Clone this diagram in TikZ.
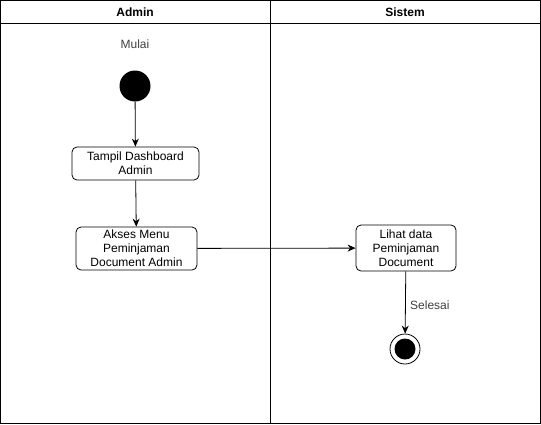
\documentclass[tikz,border=0pt]{standalone}
\usepackage{fontspec}
\setmainfont{Liberation Sans}
\usetikzlibrary{arrows.meta}
\begin{document}
\begin{tikzpicture}[x=1pt,y=-1pt,
  lane/.style={draw=black,line width=0.8pt},
  act/.style={draw=black,rounded corners=5pt,line width=0.8pt,align=center,inner sep=0pt,font=\fontsize{12}{14}\selectfont},
  lbl/.style={font=\fontsize{12}{14}\selectfont,text=black!75},
  hdr/.style={font=\bfseries\fontsize{12}{14}\selectfont},
  flow/.style={draw=black,line width=0.8pt,-{Stealth[length=8pt,width=7pt]}}]
\useasboundingbox (0,0) rectangle (541,424);
\draw[lane] (0.5,0.5) rectangle (540.5,423.5);
\draw[lane] (0.5,23.5) -- (540.5,23.5);
\draw[lane] (270.5,0.5) -- (270.5,423.5);
\node[hdr] (hA) at (135,12) {Admin};
\node[hdr] (hS) at (405,12) {Sistem};
\node[lbl] (mulai) at (135,44) {Mulai};
\node[circle,fill=black,minimum size=31pt,inner sep=0pt] (start) at (135,86) {};
\node[act,minimum width=127pt,minimum height=33pt] (b1) at (135.5,163.5) {Tampil Dashboard\\Admin};
\node[act,minimum width=121pt,minimum height=43pt] (b2) at (136.5,248.5) {Akses Menu\\Peminjaman\\Document Admin};
\node[act,minimum width=100pt,minimum height=46pt] (b3) at (406,248) {Lihat data\\Peminjaman\\Document};
\node[circle,draw=black,line width=0.8pt,minimum size=30pt,inner sep=0pt] (end) at (405,349) {};
\node[circle,fill=black,minimum size=21pt,inner sep=0pt] (endin) at (405,349) {};
\draw[flow] (start) -- (b1);
\draw[flow] (b1) -- (b2);
\draw[flow] (b2) -- (b3);
\draw[flow] (b3) -- node[lbl,right,pos=0.55,xshift=1pt]{Selesai} (end);
\end{tikzpicture}
\end{document}
